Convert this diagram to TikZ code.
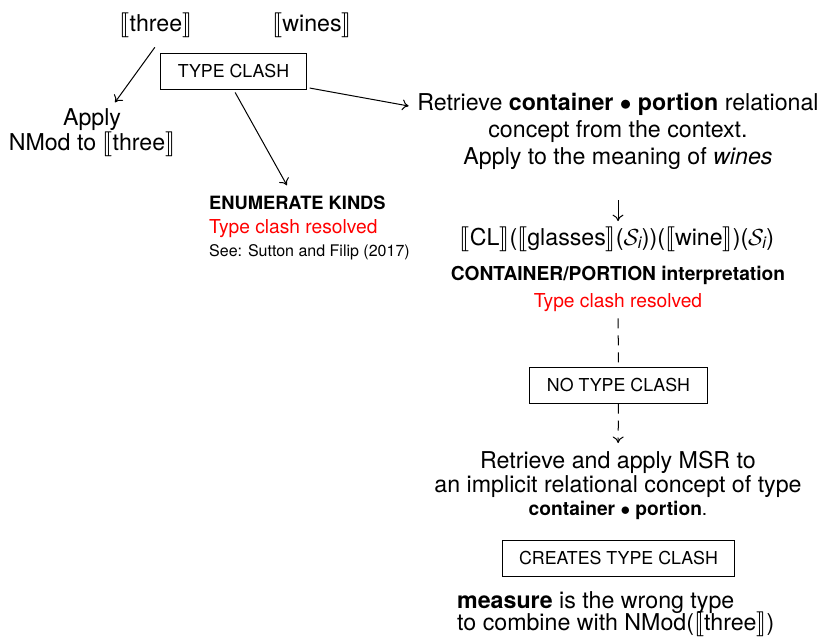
\RequirePackage{fix-cm}
\documentclass[tikz,border=0pt]{standalone}
\usepackage{amsmath}
\usepackage{stmaryrd}
\usepackage{fontspec}
\setmainfont{TeX Gyre Heros}
\usetikzlibrary{arrows.meta}
\definecolor{clashred}{RGB}{255,0,0}
\newcommand{\tightlines}{\lineskiplimit=-30pt\relax}
\begin{document}
\begin{tikzpicture}[x=1pt,y=-1pt,
  txt/.style={inner sep=0pt},
  big/.style={txt,font=\fontsize{23.2}{27}\selectfont},
  lbl/.style={draw,line width=1pt,inner xsep=17pt,inner ysep=0pt,minimum height=36pt,font=\fontsize{17.8}{20}\selectfont},
  arr/.style={line width=1pt,-{To[length=6.5pt,width=11pt]}},
  dsh/.style={line width=1pt,dash pattern=on 10pt off 7pt}]
\useasboundingbox (0,0) rectangle (825,640);

\node[big,anchor=base] (three) at (156,31) {$\llbracket$three$\rrbracket$};
\node[big,anchor=base] (wines) at (312,31) {$\llbracket$wines$\rrbracket$};
\node[lbl] (tc) at (233.5,71) {TYPE CLASH};
\node[big,align=center,anchor=north,font=\fontsize{23.2}{25}\selectfont] (apply) at (92,108.4) {Apply\\NMod to $\llbracket$three$\rrbracket$};

\node[big,align=center,anchor=north] (ret) at (618,93.4) {Retrieve \textbf{container} $\bullet$ \textbf{portion} relational\\concept from the context.\\Apply to the meaning of \textit{wines}};

\node[txt,anchor=base west,font=\fontsize{18.3}{20}\selectfont\bfseries] (enum) at (209,209) {ENUMERATE KINDS};
\node[txt,anchor=base west,font=\fontsize{19.2}{22}\selectfont,text=clashred] (res1) at (209,233) {Type clash resolved};
\node[txt,anchor=base west,font=\fontsize{16}{18}\selectfont] (see) at (209,256) {See: Sutton and Filip (2017)};

\node[big,anchor=base] (form) at (617,245) {$\llbracket$CL$\rrbracket$($\llbracket$glasses$\rrbracket$($\mathcal{S}_{\textit{i}}$))($\llbracket$wine$\rrbracket$)($\mathcal{S}_{\textit{i}}$)};
\node[txt,anchor=base,font=\fontsize{19.2}{22}\selectfont\bfseries] (interp) at (618,280) {CONTAINER/PORTION interpretation};
\node[txt,anchor=base,font=\fontsize{19.2}{22}\selectfont,text=clashred] (res2) at (618,307) {Type clash resolved};
\node[lbl] (no) at (618.5,385) {NO TYPE CLASH};
\node[big,align=center,anchor=north,font=\fontsize{23.2}{24}\selectfont] (msr) at (618,451.4) {Retrieve and apply MSR to\\an implicit relational concept of type};
\node[txt,anchor=base,font=\fontsize{19.2}{22}\selectfont] (cp) at (618,515) {\textbf{container} $\bullet$ \textbf{portion}.};
\node[lbl] (ctc) at (618.5,558) {CREATES TYPE CLASH};
\node[big,align=left,anchor=north west,font={\fontsize{23.2}{22}\selectfont\tightlines}] (meas) at (457,591.4) {\textbf{measure} is the wrong type\\to combine with NMod($\llbracket$three$\rrbracket$)};

\draw[arr,shorten <=12.2pt,shorten >=7.4pt] ([xshift=6pt]three.south) -- ([xshift=18.6pt]apply.north);
\draw[arr,shorten <=3.4pt,shorten >=11.4pt] (tc.south) -- ([xshift=83.5pt]enum.north west);
\draw[arr,shorten <=3pt] ([yshift=2pt]tc.south east) -- ([xshift=-8.5pt,yshift=-12.6pt]ret.north west);
\draw[arr,shorten <=30pt,shorten >=5pt] (ret.south) -- (ret.south |- form.north);
\draw[dsh,shorten <=7pt] (res2.south) -- (no.north);
\draw[dsh,arr,shorten >=8.4pt] (no.south) -- (msr.north);
\end{tikzpicture}
\end{document}
